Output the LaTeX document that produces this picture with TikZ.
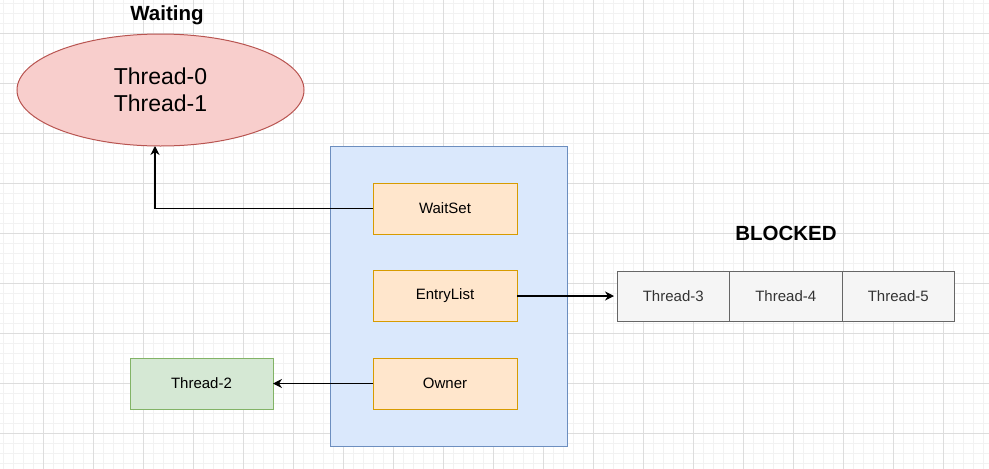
\documentclass[tikz,border=0pt]{standalone}
\usepackage{fontspec}
\setmainfont{Liberation Sans}
\usetikzlibrary{shapes.geometric, arrows.meta, positioning}

\definecolor{waitfill}{HTML}{F8CECC}
\definecolor{waitline}{HTML}{B85450}
\definecolor{monfill}{HTML}{DAE8FC}
\definecolor{monline}{HTML}{6C8EBF}
\definecolor{slotfill}{HTML}{FFE6CC}
\definecolor{slotline}{HTML}{D79B00}
\definecolor{blkfill}{HTML}{F5F5F5}
\definecolor{blkline}{HTML}{666666}
\definecolor{blktext}{HTML}{333333}
\definecolor{ownfill}{HTML}{D5E8D4}
\definecolor{ownline}{HTML}{82B366}
\definecolor{gridminor}{HTML}{F2F2F2}
\definecolor{gridmajor}{HTML}{DDDDDD}

\begin{document}
\begin{tikzpicture}[x=1pt, y=-1pt, line width=1pt,
    every node/.style={font=\fontsize{15}{18}\selectfont, inner sep=0pt, outer sep=0pt},
    slot/.style={draw=slotline, fill=slotfill, minimum width=144pt, minimum height=51pt},
    blk/.style={draw=blkline, fill=blkfill, text=blktext, minimum width=112.5pt,
      minimum height=50pt},
    title/.style={font=\fontsize{20.5}{24}\selectfont\bfseries},
    link/.style={draw=black, line width=1.1pt,
      -{Stealth[length=9pt, width=9pt, inset=3pt]}},
  ]

  \useasboundingbox (0,0) rectangle (989,469);

  % Background grid
  \foreach \gx in {3,13,...,983} \draw[gridminor, line width=0.8pt] (\gx,0) -- (\gx,469);
  \foreach \gy in {3,13,...,463} \draw[gridminor, line width=0.8pt] (0,\gy) -- (989,\gy);
  \foreach \gx in {43,93,...,943} \draw[gridmajor, line width=0.8pt] (\gx,0) -- (\gx,469);
  \foreach \gy in {33,83,...,433} \draw[gridmajor, line width=0.8pt] (0,\gy) -- (989,\gy);

  % Waiting set
  \node[title] (waitlabel) at (167,15) {Waiting};
  \node[ellipse, draw=waitline, fill=waitfill, minimum width=287pt, minimum height=112pt,
    align=center, font=\fontsize{23}{27}\selectfont] (waiting) at (160.5,90)
    {Thread-0\\Thread-1};

  % Monitor
  \node[draw=monline, fill=monfill, minimum width=237pt, minimum height=300pt]
    (monitor) at (448.5,296) {};
  \node[slot] (waitset) at (445,208.5) {WaitSet};
  \node[slot] (entrylist) at (445,296) {EntryList};
  \node[slot] (owner) at (445,383.5) {Owner};

  % Blocked queue
  \node[title] (blocklabel) at (786,233) {BLOCKED};
  \node[blk] (t3) at (673.25,296) {Thread-3};
  \node[blk, right=0pt of t3] (t4) {Thread-4};
  \node[blk, right=0pt of t4] (t5) {Thread-5};

  % Running thread
  \node[draw=ownline, fill=ownfill, minimum width=143pt, minimum height=51pt]
    (thread2) at (201.5,383.5) {Thread-2};

  % Connectors
  \draw[link] (waitset.west) -| ([xshift=-5.5pt]waiting.south);
  \draw[link, shorten >=3pt] (entrylist.east) -- (t3.west);
  \draw[link] (owner.west) -- (thread2.east);

\end{tikzpicture}
\end{document}
